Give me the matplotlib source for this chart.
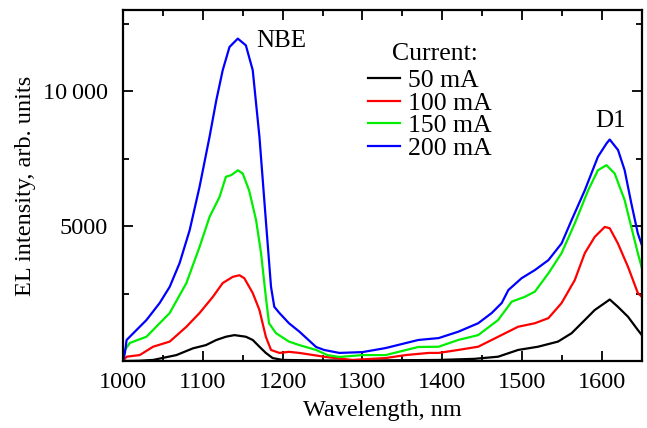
import numpy as np
import matplotlib
matplotlib.use('Agg')
import matplotlib.pyplot as plt
from matplotlib.ticker import MultipleLocator, FuncFormatter

plt.rcParams['font.family'] = ['Liberation Serif', 'DejaVu Serif']

# 200 mA
wl_200 = [1000, 1002.5, 1004.6, 1013, 1029.5, 1046, 1058.6, 1071, 1083.6, 1096, 1108.5,
          1117, 1125, 1133.5, 1143.9, 1154, 1162.6, 1171, 1179, 1185.5, 1189.6, 1196,
          1208, 1221, 1242, 1252, 1271, 1300, 1329, 1370, 1395.5, 1420.4, 1445, 1462,
          1474.5, 1482.8, 1499.4, 1516, 1533, 1549.5, 1562, 1578.6, 1595, 1605.7, 1609.8,
          1620.2, 1628.5, 1636.8, 1645, 1650]
el_200 = [0, 300, 780, 1030, 1520, 2150, 2750, 3630, 4850, 6460, 8310,
          9670, 10780, 11640, 11950, 11700, 10780, 8310, 5220, 2750, 2010, 1780,
          1400, 1090, 520, 410, 300, 330, 480, 780, 850, 1090, 1400, 1780,
          2150, 2630, 3070, 3370, 3740, 4360, 5220, 6330, 7570, 8060, 8210,
          7820, 7070, 5850, 4730, 4300]

# 150 mA
wl_150 = [1000, 1002.5, 1008.7, 1029.5, 1058.6, 1079.5, 1096, 1108.5, 1121, 1129, 1135.7,
          1144, 1150, 1158, 1166.8, 1173, 1179, 1183, 1191.8, 1208, 1221, 1242, 1256,
          1271, 1300, 1329, 1370, 1395.5, 1420, 1445, 1470, 1487, 1503.5, 1516, 1533,
          1549.5, 1566, 1582.8, 1595, 1605.7, 1616, 1628.5, 1636.8, 1645, 1650]
el_150 = [0, 410, 670, 900, 1780, 2890, 4230, 5340, 6080, 6830, 6890,
          7070, 6950, 6330, 5220, 4000, 2380, 1400, 1030, 720, 590, 410, 220,
          150, 220, 220, 520, 530, 780, 960, 1520, 2200, 2380, 2570, 3250,
          4000, 5100, 6330, 7070, 7260, 6950, 5960, 4970, 4000, 3450]

# 100 mA
wl_100 = [1000, 1004.6, 1021, 1037.8, 1058.6, 1079.5, 1096, 1112.7, 1125, 1137.6, 1146,
          1152, 1162.6, 1171, 1179, 1185.5, 1196, 1208, 1221, 1254, 1287, 1329, 1354,
          1383, 1395.5, 1420, 1445, 1470, 1495, 1516, 1533, 1549.5, 1566, 1578.6, 1591,
          1603.6, 1609.8, 1620, 1632.7, 1645, 1650]
el_100 = [0, 160, 220, 530, 720, 1270, 1780, 2380, 2890, 3120, 3180,
          3070, 2520, 1890, 900, 410, 300, 340, 300, 150, 40, 110, 220,
          300, 300, 410, 530, 900, 1270, 1400, 1590, 2150, 3000, 4000, 4600,
          4970, 4920, 4360, 3490, 2520, 2380]

# 50 mA
wl_50 = [1000, 1020, 1037.8, 1067, 1087.7, 1104, 1117, 1129, 1139.7, 1154, 1162.6, 1171,
         1179, 1187.5, 1200, 1250, 1300, 1350, 1395.5, 1440, 1470, 1495, 1520, 1545,
         1562, 1578.6, 1591, 1603.6, 1609.8, 1620, 1632.7, 1645, 1650]
el_50 = [0, 10, 40, 220, 470, 590, 780, 900, 960, 900, 780, 530,
         300, 110, 40, 20, 20, 30, 40, 80, 160, 410, 530, 720,
         1030, 1520, 1890, 2150, 2280, 2010, 1640, 1150, 960]

labels = ['50 mA', '100 mA', '150 mA', '200 mA']
colors = ['black', '#ff0000', '#00ee00', '#0000ff']
wls = [wl_50, wl_100, wl_150, wl_200]
els = [el_50, el_100, el_150, el_200]

fig = plt.figure(figsize=(6.47, 4.28), dpi=100)
ax = fig.add_axes([0.190, 0.1565, 0.802, 0.8195])

for wl, el, lab, col in zip(wls, els, labels, colors):
    ax.plot(wl, el, color=col, lw=1.6, label=lab)

ax.set_xlim(1000, 1650)
ax.set_ylim(0, 13000)
ax.xaxis.set_major_locator(MultipleLocator(100))
ax.xaxis.set_minor_locator(MultipleLocator(50))
ax.set_yticks([5000, 10000])
ax.yaxis.set_minor_locator(MultipleLocator(2500))
ax.yaxis.set_major_formatter(FuncFormatter(
    lambda v, p: '10\u2009000' if v >= 10000 else '%d' % v))
ax.tick_params(which='both', direction='in', top=True, right=True, width=1.3,
               labelsize=17.5)
ax.tick_params(which='major', length=7)
ax.tick_params(which='minor', length=4)
ax.tick_params(axis='x', pad=8)
ax.tick_params(axis='y', pad=11)
for s in ax.spines.values():
    s.set_linewidth(1.6)

ax.set_xlabel('Wavelength, nm', fontsize=17.5, labelpad=5)
ax.set_ylabel('EL intensity, arb. units', fontsize=17.5, labelpad=5)

ax.text(1167, 11630, 'NBE', fontsize=18, ha='left', va='baseline')
ax.text(1611, 8670, 'D1', fontsize=18, ha='center', va='baseline')
ax.text(1391, 11150, 'Current:', fontsize=18.5, ha='center', va='baseline')

leg = ax.legend(loc='upper left', bbox_to_anchor=(0.472, 0.832),
                frameon=False, fontsize=18.5, handlelength=1.25,
                handletextpad=0.3, labelspacing=-0.02, borderpad=0,
                borderaxespad=0)

fig.savefig('out.png', dpi=100)
